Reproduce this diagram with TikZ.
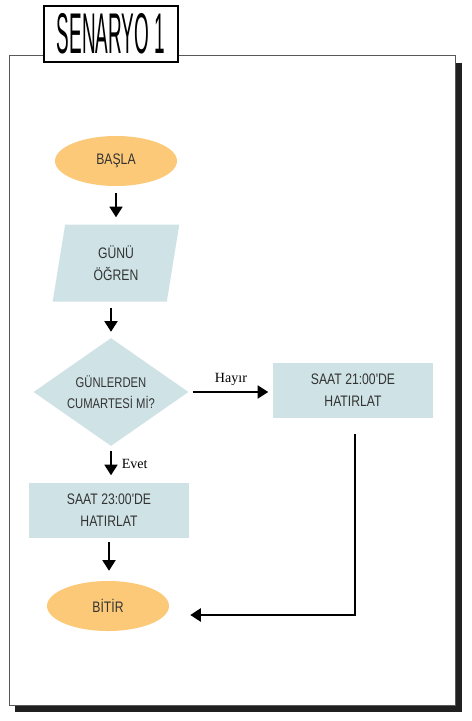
\documentclass[tikz,border=0pt]{standalone}
\usepackage{fontspec}
\setmainfont{Liberation Sans}
\newfontfamily\boxfont[FakeStretch=0.8]{Liberation Sans}
\newfontfamily\titlefont[FakeStretch=0.33]{Liberation Sans}
\newfontfamily\labelfont{Liberation Serif}
\usetikzlibrary{shapes.geometric,arrows.meta}
\definecolor{startorange}{HTML}{FCC978}
\definecolor{stepblue}{HTML}{CFE3E6}
\definecolor{inkgrey}{HTML}{333333}
\definecolor{shadowblack}{HTML}{202020}

\begin{document}
\begin{tikzpicture}[x=0.03cm,y=-0.03cm,
  terminal/.style={ellipse, fill=startorange, minimum width=3.66cm, minimum height=1.5cm, inner sep=0pt, text=inkgrey, font={\boxfont\fontsize{13}{18.5}\selectfont}},
  inputbox/.style={trapezium, trapezium left angle=81, trapezium right angle=99, trapezium stretches=true, fill=stepblue, minimum width=3.81cm, minimum height=2.31cm, inner sep=0pt, align=center, text=inkgrey, font={\boxfont\fontsize{13}{18.5}\selectfont}},
  decisionbox/.style={diamond, fill=stepblue, minimum width=4.65cm, minimum height=3.24cm, inner sep=0pt, shape aspect=1.5, align=center, text=inkgrey, font={\boxfont\fontsize{12}{18}\selectfont}},
  processbox/.style={rectangle, fill=stepblue, minimum width=4.77cm, minimum height=1.65cm, inner sep=0pt, align=center, text=inkgrey, font={\boxfont\fontsize{13}{18.5}\selectfont}},
  flow/.style={line width=1.7pt, -{Triangle[length=9pt,width=11pt]}},
  answer/.style={font={\labelfont\fontsize{12}{14}\selectfont}, text=black}
]
\useasboundingbox (0,0) rectangle (472,721);

% frame with its shadow
\fill[shadowblack] (455,63) rectangle (462,712);
\fill[shadowblack] (15,705) rectangle (462,712);
\draw[line width=0.8pt, gray!70!black] (9,55) rectangle (455,705);
\node (title) [draw, line width=1.3pt, fill=white, minimum width=4.02cm, minimum height=1.68cm, inner sep=0pt, font={\titlefont\fontsize{49}{49}\selectfont}] at (111,34) {SENARYO 1};

% flowchart
\node (start) [terminal] at (116,161) {BAŞLA};
\node (input) [inputbox] at (116,263) {GÜNÜ\\ÖĞREN};
\node (decision) [decisionbox] at (111,392) {GÜNLERDEN\\CUMARTESİ Mİ?};
\node (sat21) [processbox] at (353,390) {SAAT 21:00'DE\\HATIRLAT};
\node (sat23) [processbox] at (109,510) {SAAT 23:00'DE\\HATIRLAT};
\node (end) [terminal] at (108,606) {BİTİR};
\coordinate (turn) at (355,615);

\draw[flow, shorten <=0.21cm, shorten >=0.21cm] (start.south) -- (input.north);
\draw[flow, shorten <=0.18cm, shorten >=0.18cm] (decision.north |- input.south) -- (decision.north);
\draw[flow, shorten <=0.12cm, shorten >=0.15cm] (decision.east) -- (decision.east -| sat21.west) node[midway, above=1pt, answer] {Hayır};
\draw[flow, shorten <=0.15cm, shorten >=0.21cm] (decision.south) -- (decision.south |- sat23.north) node[midway, right=5pt, answer] {Evet};
\draw[flow, shorten <=0.12cm, shorten >=0.3cm] (sat23.south) -- (sat23.south |- end.north);
\draw[flow, line width=2.2pt, shorten <=0.5cm, shorten >=0.63cm] (turn |- sat21.south) -- (turn) -- (end.east |- turn);
\end{tikzpicture}
\end{document}
